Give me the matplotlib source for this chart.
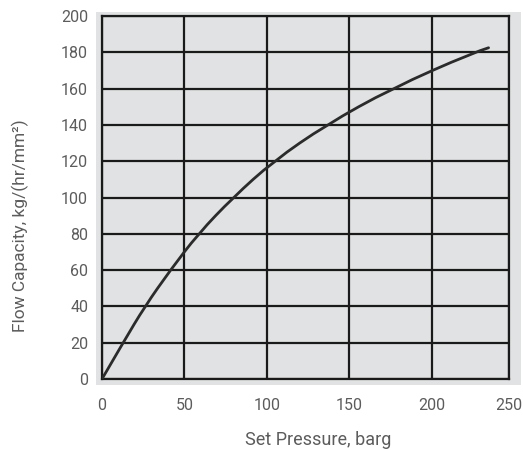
import matplotlib.pyplot as plt
from matplotlib.patches import Rectangle, PathPatch
from matplotlib.path import Path

plt.rcParams["font.family"] = ["Roboto", "DejaVu Sans"]

# curve (set pressure barg -> flow capacity)
pressure = [0, 12.8, 26, 41.5, 58.4, 79.5, 104, 136, 175.6, 225.6, 234.6]
capacity = [0, 20, 40, 60, 80, 100, 120, 140, 160, 180, 182.5]

x_ticks = [0, 50, 100, 150, 200, 247]
x_labels = ["0", "50", "100", "150", "200", "250"]
y_ticks = list(range(0, 201, 20))

TXT = "#5c5c5c"
W, H = 523, 450
fig = plt.figure(figsize=(W / 100, H / 100), dpi=100)

# grey panel that sticks out slightly beyond the grid box
fig.patches.append(Rectangle((96 / W, 1 - 385 / H), (521 - 96) / W, (385 - 12) / H,
                             transform=fig.transFigure, facecolor="#e1e2e3",
                             edgecolor="none", zorder=-5))

ax = fig.add_axes([102 / W, 1 - 379 / H, (509 - 102) / W, (379 - 16) / H])
ax.set_zorder(2)
ax.set_facecolor("#e1e2e3")

# smooth the read points with quadratic beziers (points as controls, midpoints as knots)
pts = list(zip(pressure, capacity))
verts = [pts[0]]
codes = [Path.MOVETO]
for i in range(1, len(pts) - 1):
    mid = ((pts[i][0] + pts[i + 1][0]) / 2, (pts[i][1] + pts[i + 1][1]) / 2)
    if i == len(pts) - 2:
        mid = pts[-1]
    verts += [pts[i], mid]
    codes += [Path.CURVE3, Path.CURVE3]
ax.add_patch(PathPatch(Path(verts, codes), facecolor="none", edgecolor="#2b2b2b",
                       lw=2.0, capstyle="round", zorder=3))

ax.set_xlim(0, 247)
ax.set_ylim(0, 200)
ax.set_xticks(x_ticks)
ax.set_xticklabels(x_labels)
ax.set_yticks(y_ticks)
ax.grid(True, color="#1a1a1a", lw=1.6)
ax.set_axisbelow(True)
for s in ax.spines.values():
    s.set_color("#1a1a1a")
    s.set_linewidth(1.6)

ax.tick_params(length=0, labelsize=11.5, labelcolor=TXT)
ax.tick_params(axis="x", pad=14)
ax.tick_params(axis="y", pad=10)

ax.set_xlabel("Set Pressure, barg", fontsize=13, color=TXT, va="center")
ax.set_ylabel("Flow Capacity, kg/(hr/mm²)", fontsize=12.5, color=TXT,
              va="center", ha="center")
ax.xaxis.set_label_coords(0.531, -0.168)
ax.yaxis.set_label_coords(-0.201, 0.421)

fig.savefig("out.png", dpi=100)
